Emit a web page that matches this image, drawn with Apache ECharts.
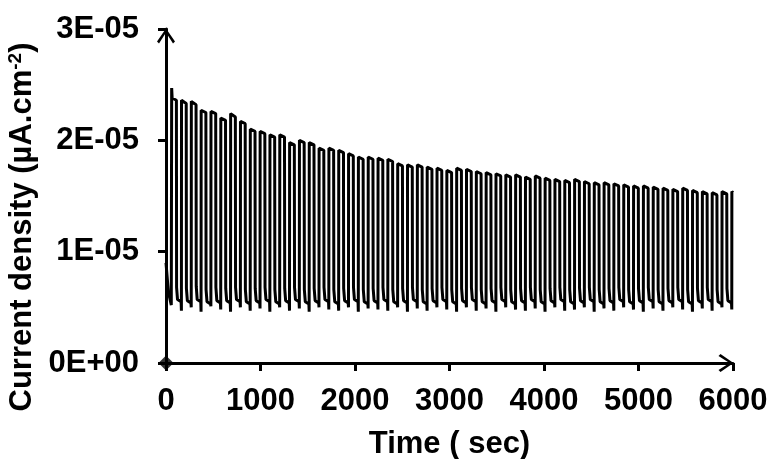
<!DOCTYPE html>
<html>
<head>
<meta charset="utf-8">
<script src="https://cdn.jsdelivr.net/npm/echarts@6/dist/echarts.min.js"></script>
<style>
html,body{margin:0;padding:0;background:#fff;}
#chart{width:769px;height:459px;}
</style>
</head>
<body>
<div id="chart"></div>
<script>
// Values in units of 1E-05 (µA.cm-2)
const UNIT = 1e-5;
// Light-on times (s) of each chopping cycle
const cycleStart = [60,164,268,372,476,580,684,788,892,996,1100,1204,1308,1412,1516,1620,1724,1828,1932,2036,2140,2244,2348,2452,2556,2660,2764,2868,2972,3076,3180,3284,3388,3492,3596,3700,3804,3908,4012,4116,4220,4324,4428,4532,4636,4740,4844,4948,5052,5156,5260,5364,5468,5572,5676,5780,5884,5988];
// Peak right after light on
const onPeak = [2.47,2.36,2.35,2.27,2.26,2.20,2.24,2.17,2.10,2.08,2.05,2.05,1.98,2.00,1.98,1.93,1.93,1.91,1.88,1.85,1.85,1.84,1.83,1.79,1.78,1.78,1.76,1.75,1.73,1.75,1.74,1.72,1.71,1.70,1.69,1.69,1.67,1.68,1.66,1.65,1.64,1.65,1.63,1.62,1.62,1.61,1.60,1.59,1.59,1.58,1.57,1.56,1.57,1.55,1.54,1.53,1.54,1.54];
// Level at the end of the light-on period
const onLevel = [2.36,2.33,2.32,2.25,2.24,2.18,2.21,2.15,2.08,2.06,2.03,2.03,1.96,1.98,1.96,1.91,1.91,1.89,1.86,1.83,1.83,1.82,1.81,1.77,1.76,1.76,1.74,1.73,1.71,1.73,1.72,1.70,1.69,1.68,1.67,1.67,1.65,1.66,1.64,1.63,1.62,1.63,1.61,1.60,1.60,1.59,1.58,1.57,1.57,1.56,1.55,1.54,1.55,1.53,1.52,1.51,1.52,1.53];
// Level right after light off
const offHigh = [0.68,0.67,0.69,0.66,0.68,0.67,0.68,0.66,0.67,0.68,0.66,0.67,0.68,0.66,0.67,0.68,0.66,0.67,0.68,0.66,0.67,0.68,0.66,0.67,0.68,0.66,0.67,0.68,0.66,0.67,0.68,0.66,0.67,0.68,0.66,0.67,0.68,0.66,0.67,0.68,0.66,0.67,0.68,0.66,0.67,0.68,0.66,0.67,0.68,0.66,0.67,0.68,0.66,0.67,0.68,0.66,0.67];
// Level reached during the dark period
const offMid = [0.57,0.56,0.57,0.55,0.56,0.56,0.57,0.55,0.56,0.57,0.55,0.56,0.57,0.55,0.56,0.57,0.55,0.56,0.57,0.55,0.56,0.57,0.55,0.56,0.57,0.55,0.56,0.57,0.55,0.56,0.57,0.55,0.56,0.57,0.55,0.56,0.57,0.55,0.56,0.57,0.55,0.56,0.57,0.55,0.56,0.57,0.55,0.56,0.57,0.55,0.56,0.57,0.55,0.56,0.57,0.55,0.56];
// Lowest value before the next light on
const offLow = [0.47,0.50,0.46,0.51,0.48,0.46,0.50,0.47,0.49,0.46,0.50,0.47,0.49,0.46,0.50,0.48,0.47,0.50,0.46,0.49,0.48,0.47,0.50,0.46,0.49,0.47,0.50,0.48,0.46,0.50,0.47,0.49,0.46,0.50,0.48,0.47,0.49,0.46,0.50,0.47,0.48,0.50,0.46,0.49,0.47,0.50,0.48,0.46,0.49,0.47,0.50,0.48,0.46,0.49,0.47,0.50,0.48];
// Initial dark segment before the first cycle
const startTimes = [0, 25, 56];
const startValues = [0.90, 0.64, 0.52];

const xTickLabels = ['0','1000','2000','3000','4000','5000','6000'];
const yTickLabels = ['0E+00','1E-05','2E-05','3E-05'];

// Build the trace
const trace = [];
for (let k = 0; k < startTimes.length; k++) trace.push([startTimes[k], startValues[k] * UNIT]);
for (let i = 0; i < cycleStart.length; i++) {
  const t = cycleStart[i];
  trace.push([t, onPeak[i] * UNIT]);
  trace.push([t + 5, (onLevel[i] + 0.02) * UNIT]);
  if (i < offHigh.length) {
    const next = cycleStart[i + 1];
    trace.push([t + 50, onLevel[i] * UNIT]);
    trace.push([t + 52, offHigh[i] * UNIT]);
    trace.push([t + 62, offMid[i] * UNIT]);
    trace.push([next - 4, (offMid[i] - 0.02) * UNIT]);
    trace.push([next - 1, offLow[i] * UNIT]);
  } else {
    trace.push([6000, onLevel[i] * UNIT]);
  }
}

const FONT = "'Liberation Sans', Arial, sans-serif";
const chevron = 'path://M9,0 L18,13 L16,15 L9,4 L2,15 L0,13 Z';

const chart = echarts.init(document.getElementById('chart'), null, {renderer: 'canvas'});
chart.setOption({
  animation: false,
  backgroundColor: '#ffffff',
  grid: {left: 166, right: 36, top: 29, bottom: 96, containLabel: false, outerBoundsMode: 'none'},
  xAxis: {
    type: 'value', min: 0, max: 6000, interval: 1000,
    name: 'Time ( sec)', nameLocation: 'middle', nameGap: 66,
    nameTextStyle: {fontFamily: FONT, fontWeight: 'bold', fontSize: 31, color: '#000'},
    axisLine: {show: true, onZero: false, lineStyle: {color: '#000', width: 3},
      symbol: ['none', chevron], symbolSize: [18, 15], symbolOffset: [0, -7]},
    axisTick: {show: true, inside: false, length: 8, lineStyle: {color: '#000', width: 3}},
    axisLabel: {margin: 23, fontFamily: FONT, fontWeight: 'bold', fontSize: 31, color: '#000',
      formatter: v => xTickLabels[Math.round(v / 1000)]},
    splitLine: {show: false}
  },
  yAxis: {
    type: 'value', min: 0, max: 3 * UNIT, interval: UNIT,
    name: 'Current density (µA.cm{sup|-2})', nameLocation: 'middle', nameGap: 120,
    nameTextStyle: {fontFamily: FONT, fontWeight: 'bold', fontSize: 31, color: '#000',
      padding: [0, 62, 0, 0],
      rich: {sup: {fontFamily: FONT, fontWeight: 'bold', fontSize: 19, color: '#000', verticalAlign: 'top', padding: [0, 0, 12, 0]}}},
    axisLine: {show: true, onZero: false, lineStyle: {color: '#000', width: 3},
      symbol: ['none', chevron], symbolSize: [18, 15], symbolOffset: [0, -7]},
    axisTick: {show: true, inside: false, length: 8, lineStyle: {color: '#000', width: 3}},
    axisLabel: {margin: 27, fontFamily: FONT, fontWeight: 'bold', fontSize: 31, color: '#000',
      formatter: v => yTickLabels[Math.round(v / UNIT)]},
    splitLine: {show: false}
  },
  series: [
    {
      type: 'line', data: trace, showSymbol: false, symbol: 'none',
      lineStyle: {color: '#000', width: 3}, clip: false, z: 3
    },
    {
      type: 'scatter', data: [[0, 0]], symbol: 'diamond', symbolSize: 15,
      itemStyle: {color: '#000'}, clip: false, z: 20, zlevel: 1
    }
  ]
});
</script>
</body>
</html>
